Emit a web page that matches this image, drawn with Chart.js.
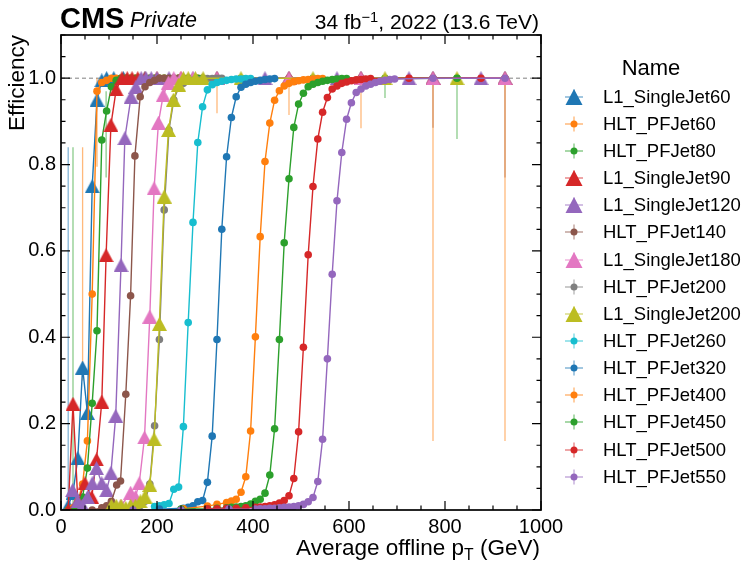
<!DOCTYPE html>
<html>
<head>
<meta charset="utf-8">
<script src="https://cdn.jsdelivr.net/npm/chart.js@4.4.1/dist/chart.umd.min.js"></script>
<style>
  html, body { margin: 0; padding: 0; background: #fff; }
  #wrap { position: relative; width: 744px; height: 563px; font-family: "Liberation Sans", Arial, sans-serif; color: #000; overflow: hidden; }
  #chart { position: absolute; left: 0; top: 0; }
  .txt { position: absolute; white-space: nowrap; line-height: 1; }
  #cms { left: 60px; top: 4px; font-size: 29px; font-weight: bold; }
  #priv { left: 130px; top: 10px; font-size: 21.5px; font-style: italic; }
  #lumi { left: 240px; width: 299px; top: 10.5px; font-size: 21px; text-align: right; }
  #lumi sup { font-size: 0.7em; vertical-align: 0.45em; line-height: 0; }
  #ylab { left: 0; top: 0; width: 200px; font-size: 22.5px; text-align: right; transform-origin: 0 0; transform: translate(6px, 235px) rotate(-90deg); }
  #xlab { left: 200px; width: 340px; top: 537px; font-size: 22.5px; text-align: right; }
  #xlab sub { font-size: 0.7em; vertical-align: -0.3em; line-height: 0; }
  #legtitle { left: 600px; width: 102px; top: 57px; font-size: 22px; text-align: center; }
  .row { position: absolute; left: 556px; height: 24px; }
  .row canvas { position: absolute; left: 0; top: 0; }
  .row span { position: absolute; left: 47px; top: 0; line-height: 24px; font-size: 18.5px; white-space: nowrap; }
</style>
</head>
<body>
<div id="wrap">
  <canvas id="chart" width="744" height="563"></canvas>
  <div class="txt" id="cms">CMS</div>
  <div class="txt" id="priv">Private</div>
  <div class="txt" id="lumi">34 fb<sup>−1</sup>, 2022 (13.6 TeV)</div>
  <div class="txt" id="ylab">Efficiency</div>
  <div class="txt" id="xlab">Average offline p<sub>T</sub> (GeV)</div>
  <div class="txt" id="legtitle">Name</div>
  <div id="legend"></div>
</div>
<script>
// trigger paths, in plotting order
const seriesNames = [
  "L1_SingleJet60", "HLT_PFJet60", "HLT_PFJet80", "L1_SingleJet90", "L1_SingleJet120",
  "HLT_PFJet140", "L1_SingleJet180", "HLT_PFJet200", "L1_SingleJet200", "HLT_PFJet260",
  "HLT_PFJet320", "HLT_PFJet400", "HLT_PFJet450", "HLT_PFJet500", "HLT_PFJet550"
];

// average offline pT (GeV) and efficiency per path
const ptL1Jet60 = [15, 25, 35, 45, 55, 65, 75, 85, 95, 110, 130, 175, 325, 475, 625, 775, 925];
const effL1Jet60 = [0.01, 0.04, 0.12, 0.33, 0.225, 0.75, 0.95, 0.995, 1.0, 1.0, 1.0, 1.0, 1.0, 1.0, 1.0, 1.0, 1.0];

const ptPFJet60 = [15, 25, 35, 45, 55, 65, 75, 85, 95, 105, 115, 125, 135, 145, 155, 165, 175, 185, 195, 205, 215, 225, 235, 245, 255, 265, 275, 285, 295, 325, 475, 625, 775, 925];
const effPFJet60 = [0.0, 0.005, 0.02, 0.06, 0.16, 0.5, 0.97, 0.99, 0.995, 1.0, 1.0, 1.0, 1.0, 1.0, 1.0, 1.0, 1.0, 1.0, 1.0, 1.0, 1.0, 1.0, 1.0, 1.0, 1.0, 1.0, 1.0, 1.0, 1.0, 1.0, 1.0, 1.0, 1.0, 1.0];

const ptPFJet80 = [15, 25, 35, 45, 55, 65, 75, 85, 95, 105, 115, 125, 135, 145, 155, 165, 175, 185, 195, 205, 215, 225, 235, 245, 255, 265, 275, 285, 295, 375, 525, 675, 825];
const effPFJet80 = [0.0, 0.0, 0.01, 0.03, 0.097, 0.247, 0.415, 0.857, 0.924, 0.98, 0.995, 1.0, 1.0, 1.0, 1.0, 1.0, 1.0, 1.0, 1.0, 1.0, 1.0, 1.0, 1.0, 1.0, 1.0, 1.0, 1.0, 1.0, 1.0, 1.0, 1.0, 1.0, 1.0];

const ptL1Jet90 = [15, 25, 35, 50, 64, 74, 85, 94, 104, 115, 127, 138, 148, 160, 175, 200, 250, 325, 475, 625, 775, 925];
const effL1Jet90 = [0.0, 0.246, 0.02, 0.062, 0.03, 0.117, 0.251, 0.59, 0.892, 0.974, 1.0, 1.0, 1.0, 1.0, 1.0, 1.0, 1.0, 1.0, 1.0, 1.0, 1.0, 1.0];

const ptL1Jet120 = [24, 35, 45, 55, 65, 74, 85, 95, 104, 114, 125, 133, 146, 156, 167, 177, 188, 200, 225, 275, 425, 575, 725, 875];
const effL1Jet120 = [0.046, 0.02, 0.01, 0.03, 0.062, 0.097, 0.062, 0.046, 0.086, 0.218, 0.567, 0.861, 0.957, 0.98, 1.0, 1.0, 1.0, 1.0, 1.0, 1.0, 1.0, 1.0, 1.0, 1.0];

const ptPFJet140 = [65, 85, 95, 105, 116, 124, 135, 145, 154, 165, 175, 185, 195, 205, 215, 225, 235, 245, 475, 625, 775, 925];
const effPFJet140 = [0.0, 0.005, 0.01, 0.02, 0.058, 0.067, 0.268, 0.496, 0.82, 0.957, 0.98, 0.99, 0.995, 1.0, 1.0, 1.0, 1.0, 1.0, 1.0, 1.0, 1.0, 1.0];

const ptL1Jet180 = [105, 125, 145, 155, 163, 174, 185, 194, 203, 213, 224, 235, 250, 275, 325, 475, 625, 775, 925];
const effL1Jet180 = [0.0, 0.01, 0.04, 0.03, 0.062, 0.168, 0.448, 0.745, 0.897, 0.961, 0.99, 1.0, 1.0, 1.0, 1.0, 1.0, 1.0, 1.0, 1.0];

const ptPFJet200 = [125, 145, 165, 175, 185, 195, 205, 215, 225, 235, 245, 255, 265, 275, 285, 295, 305, 315, 325, 335];
const effPFJet200 = [0.003, 0.005, 0.01, 0.02, 0.06, 0.195, 0.395, 0.695, 0.88, 0.95, 0.978, 0.988, 0.993, 0.995, 0.997, 0.998, 0.999, 0.999, 1.0, 1.0];

const ptL1Jet200 = [105, 115, 125, 135, 145, 155, 165, 175, 185, 194, 205, 215, 224, 234, 245, 255, 265, 280, 296, 375, 525, 675, 825];
const effL1Jet200 = [0.01, 0.01, 0.01, 0.005, 0.01, 0.01, 0.02, 0.031, 0.058, 0.164, 0.431, 0.726, 0.88, 0.95, 0.985, 1.0, 1.0, 1.0, 1.0, 1.0, 1.0, 1.0, 1.0];

const ptPFJet260 = [195, 205, 215, 225, 235, 245, 255, 265, 275, 285, 295, 305, 315, 325, 335, 345, 355, 365, 375, 385, 395];
const effPFJet260 = [0.008, 0.01, 0.012, 0.015, 0.048, 0.053, 0.193, 0.434, 0.666, 0.851, 0.934, 0.973, 0.985, 0.99, 0.993, 0.995, 0.997, 0.998, 0.998, 0.999, 0.999];

const ptPFJet320 = [205, 255, 265, 275, 285, 295, 305, 315, 325, 335, 345, 355, 365, 375, 385, 395, 405, 415, 425, 435, 445];
const effPFJet320 = [0.002, 0.004, 0.006, 0.01, 0.019, 0.022, 0.064, 0.171, 0.395, 0.65, 0.818, 0.909, 0.957, 0.979, 0.986, 0.99, 0.993, 0.995, 0.997, 0.998, 0.999];

const ptPFJet400 = [255, 305, 325, 345, 355, 365, 375, 385, 395, 405, 415, 425, 435, 445, 455, 465, 475, 485, 495, 505, 515, 525, 535, 545];
const effPFJet400 = [0.003, 0.009, 0.013, 0.017, 0.021, 0.025, 0.041, 0.077, 0.183, 0.401, 0.633, 0.807, 0.896, 0.949, 0.971, 0.982, 0.988, 0.992, 0.994, 0.996, 0.997, 0.998, 0.999, 0.999];

const ptPFJet450 = [250, 305, 325, 345, 355, 365, 375, 385, 395, 405, 415, 425, 435, 445, 455, 465, 475, 485, 495, 505, 515, 525, 535, 545, 555, 565, 575, 585, 595, 825];
const effPFJet450 = [0.002, 0.003, 0.004, 0.005, 0.006, 0.007, 0.008, 0.01, 0.014, 0.02, 0.025, 0.039, 0.081, 0.188, 0.395, 0.619, 0.767, 0.886, 0.94, 0.965, 0.98, 0.986, 0.99, 0.993, 0.995, 0.997, 0.998, 0.999, 0.999, 1.0];

const ptPFJet500 = [305, 325, 345, 365, 385, 405, 415, 425, 435, 445, 455, 465, 475, 485, 495, 505, 515, 525, 535, 545, 555, 565, 575, 585, 595, 605, 615, 625, 635, 645, 725, 875];
const effPFJet500 = [0.003, 0.003, 0.004, 0.004, 0.005, 0.006, 0.007, 0.008, 0.01, 0.012, 0.016, 0.022, 0.033, 0.073, 0.181, 0.377, 0.591, 0.749, 0.859, 0.921, 0.955, 0.975, 0.982, 0.988, 0.991, 0.994, 0.996, 0.997, 0.998, 0.999, 1.0, 1.0];

const ptPFJet550 = [150, 250, 350, 405, 415, 425, 435, 445, 455, 465, 475, 485, 495, 505, 515, 525, 535, 545, 555, 565, 575, 585, 595, 605, 615, 625, 635, 645, 655, 665, 675, 685, 695, 775, 925];
const effPFJet550 = [0.0, 0.0, 0.002, 0.002, 0.003, 0.003, 0.004, 0.004, 0.005, 0.006, 0.007, 0.008, 0.01, 0.013, 0.019, 0.029, 0.066, 0.164, 0.35, 0.546, 0.716, 0.828, 0.905, 0.943, 0.967, 0.975, 0.982, 0.986, 0.99, 0.993, 0.995, 0.997, 0.998, 1.0, 1.0];

const seriesPt = [ptL1Jet60, ptPFJet60, ptPFJet80, ptL1Jet90, ptL1Jet120, ptPFJet140, ptL1Jet180, ptPFJet200, ptL1Jet200, ptPFJet260, ptPFJet320, ptPFJet400, ptPFJet450, ptPFJet500, ptPFJet550];
const seriesEff = [effL1Jet60, effPFJet60, effPFJet80, effL1Jet90, effL1Jet120, effPFJet140, effL1Jet180, effPFJet200, effL1Jet200, effPFJet260, effPFJet320, effPFJet400, effPFJet450, effPFJet500, effPFJet550];

// visible (large) statistical uncertainties: series index, pT, lower and upper efficiency
const errSeries = [0, 2, 1, 1, 2, 1, 1, 1, 2, 5, 1, 2, 5, 1];
const errPt     = [15, 25, 45, 75, 94, 325, 475, 625, 675, 775, 775, 825, 925, 925];
const errLo     = [0.0, 0.0, 0.3, 0.795, 0.77, 0.919, 0.915, 0.884, 0.954, 0.885, 0.16, 0.859, 0.77, 0.16];
const errHi     = [0.84, 0.84, 0.84, 1.0, 0.97, 1.0, 1.0, 1.0, 1.0, 1.0, 1.0, 1.0, 1.0, 1.0];

const tab10 = ["#1f77b4", "#ff7f0e", "#2ca02c", "#d62728", "#9467bd", "#8c564b", "#e377c2", "#7f7f7f", "#bcbd22", "#17becf"];
const colorOf = i => tab10[i % 10];
const isL1 = i => seriesNames[i].startsWith("L1");

function triangleImage(color, w, h) {
  const c = document.createElement("canvas");
  c.width = w; c.height = h;
  const g = c.getContext("2d");
  g.fillStyle = color;
  g.beginPath();
  g.moveTo(w / 2, 0);
  g.lineTo(w, h);
  g.lineTo(0, h);
  g.closePath();
  g.fill();
  return c;
}

function hexAlpha(hex, a) {
  const n = parseInt(hex.slice(1), 16);
  return `rgba(${n >> 16}, ${(n >> 8) & 255}, ${n & 255}, ${a})`;
}

const datasets = seriesNames.map((name, i) => ({
  label: name,
  data: seriesPt[i].map((pt, k) => ({ x: pt, y: seriesEff[i][k] })),
  borderColor: colorOf(i),
  backgroundColor: colorOf(i),
  borderWidth: 1.4,
  pointStyle: isL1(i) ? triangleImage(colorOf(i), 15, 14) : "circle",
  pointRadius: isL1(i) ? 7 : 3.8,
  pointBorderWidth: 0,
  tension: 0,
  order: seriesNames.length - i
}));

const decor = {
  id: "decor",
  beforeDatasetsDraw(chart) {
    const { ctx, chartArea: a, scales: { x, y } } = chart;
    ctx.save();
    ctx.beginPath();
    ctx.rect(a.left, a.top, a.right - a.left, a.bottom - a.top);
    ctx.clip();
    // reference line at efficiency 1
    const y1 = y.getPixelForValue(1);
    ctx.strokeStyle = "#808080";
    ctx.lineWidth = 1;
    ctx.setLineDash([4, 3]);
    ctx.beginPath();
    ctx.moveTo(a.left, y1);
    ctx.lineTo(a.right, y1);
    ctx.stroke();
    ctx.setLineDash([]);
    // error bars
    ctx.lineWidth = 1.3;
    errPt.forEach((pt, k) => {
      const px = x.getPixelForValue(pt);
      ctx.strokeStyle = hexAlpha(colorOf(errSeries[k]), 0.55);
      ctx.beginPath();
      ctx.moveTo(px, y.getPixelForValue(errLo[k]));
      ctx.lineTo(px, y.getPixelForValue(errHi[k]));
      ctx.stroke();
    });
    ctx.restore();
  },
  afterDraw(chart) {
    const { ctx, chartArea: a, scales: { x, y } } = chart;
    ctx.save();
    ctx.strokeStyle = "#000";
    ctx.lineWidth = 1.2;
    const tick = (px, len, vertical) => {
      ctx.beginPath();
      if (vertical) {
        ctx.moveTo(px, a.bottom); ctx.lineTo(px, a.bottom - len);
        ctx.moveTo(px, a.top); ctx.lineTo(px, a.top + len);
      } else {
        ctx.moveTo(a.left, px); ctx.lineTo(a.left + len, px);
        ctx.moveTo(a.right, px); ctx.lineTo(a.right - len, px);
      }
      ctx.stroke();
    };
    for (let v = 0; v <= 1000; v += 50) tick(x.getPixelForValue(v), v % 200 === 0 ? 9 : 4.5, true);
    for (let k = 0; k <= 22; k++) tick(y.getPixelForValue(k * 0.05), k % 4 === 0 ? 9 : 4.5, false);
    ctx.lineWidth = 1.7;
    ctx.strokeRect(a.left, a.top, a.right - a.left, a.bottom - a.top);
    ctx.restore();
  }
};

const tickFont = { family: "'Liberation Sans', Arial, sans-serif", size: 20 };

new Chart(document.getElementById("chart"), {
  type: "line",
  data: { datasets },
  options: {
    responsive: false,
    animation: false,
    layout: { padding: { left: 0, right: 203, top: 35, bottom: 0 } },
    plugins: { legend: { display: false }, tooltip: { enabled: false } },
    scales: {
      x: {
        type: "linear", min: 0, max: 1000,
        ticks: { stepSize: 200, color: "#000", font: tickFont, padding: 5, maxRotation: 0, callback: v => v },
        grid: { display: false, drawTicks: false },
        border: { display: false },
        afterFit: s => { s.height = 53; }
      },
      y: {
        min: 0, max: 1.1,
        ticks: { stepSize: 0.2, includeBounds: false, color: "#000", font: tickFont, padding: 5, callback: v => v.toFixed(1) },
        grid: { display: false, drawTicks: false },
        border: { display: false },
        afterFit: s => { s.width = 61; }
      }
    }
  },
  plugins: [decor]
});

// legend with error-bar style handles
const legend = document.getElementById("legend");
seriesNames.forEach((name, i) => {
  const row = document.createElement("div");
  row.className = "row";
  row.style.top = (96.7 + 27.14 * i - 12) + "px";
  const c = document.createElement("canvas");
  c.width = 36; c.height = 24;
  const g = c.getContext("2d");
  g.strokeStyle = hexAlpha(colorOf(i), 0.55);
  g.lineWidth = 1.4;
  g.beginPath();
  g.moveTo(9, 12); g.lineTo(27, 12);
  g.moveTo(18, 4.5); g.lineTo(18, 19.5);
  g.stroke();
  g.fillStyle = colorOf(i);
  g.beginPath();
  if (isL1(i)) {
    g.moveTo(18, 4); g.lineTo(26.5, 20); g.lineTo(9.5, 20); g.closePath();
  } else {
    g.arc(18, 12, 3.5, 0, Math.PI * 2);
  }
  g.fill();
  const s = document.createElement("span");
  s.textContent = name;
  row.appendChild(c);
  row.appendChild(s);
  legend.appendChild(row);
});
</script>
</body>
</html>
